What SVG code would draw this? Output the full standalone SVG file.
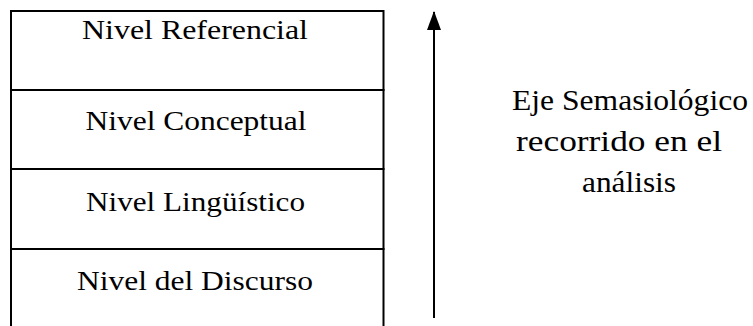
<svg xmlns="http://www.w3.org/2000/svg" width="753" height="326" viewBox="0 0 753 326">
<style>
.box{fill:none;stroke:#000;stroke-width:2}
.lbl{font-family:"Liberation Serif",serif;font-size:27px;fill:#000;text-anchor:middle}
.rt{font-family:"Liberation Serif",serif;font-size:29px;fill:#000;text-anchor:middle}
.conn{stroke:#000;stroke-width:2;fill:none}
</style>
<defs>
<marker id="ah" markerUnits="userSpaceOnUse" markerWidth="19" markerHeight="14" refX="18" refY="7" orient="auto" viewBox="0 0 19 14">
<path d="M0,0 L19,7 L0,14 Z" fill="#000"/>
</marker>
</defs>
<rect width="753" height="326" fill="#fff"/>
<g id="nivel-referencial">
<rect class="box" x="11" y="11" width="372.5" height="79"/>
<text class="lbl" x="195" y="39" textLength="226" lengthAdjust="spacingAndGlyphs">Nivel Referencial</text>
</g>
<g id="nivel-conceptual">
<rect class="box" x="11" y="90" width="372.5" height="79"/>
<text class="lbl" x="196" y="130" textLength="221" lengthAdjust="spacingAndGlyphs">Nivel Conceptual</text>
</g>
<g id="nivel-linguistico">
<rect class="box" x="11" y="169" width="372.5" height="80"/>
<text class="lbl" x="195.5" y="211" textLength="219" lengthAdjust="spacingAndGlyphs">Nivel Lingüístico</text>
</g>
<g id="nivel-discurso">
<rect class="box" x="11" y="249" width="372.5" height="90"/>
<text class="lbl" x="195" y="290" textLength="236" lengthAdjust="spacingAndGlyphs">Nivel del Discurso</text>
</g>
<g id="connectors">
<line class="conn" x1="434" y1="318" x2="434" y2="12" marker-end="url(#ah)"/>
</g>
<g id="eje-label">
<text class="rt" x="630" y="110" textLength="236" lengthAdjust="spacingAndGlyphs">Eje Semasiológico</text>
<text class="rt" x="619" y="151" textLength="206" lengthAdjust="spacingAndGlyphs">recorrido en el</text>
<text class="rt" x="629" y="192" textLength="94" lengthAdjust="spacingAndGlyphs">análisis</text>
</g>
</svg>
